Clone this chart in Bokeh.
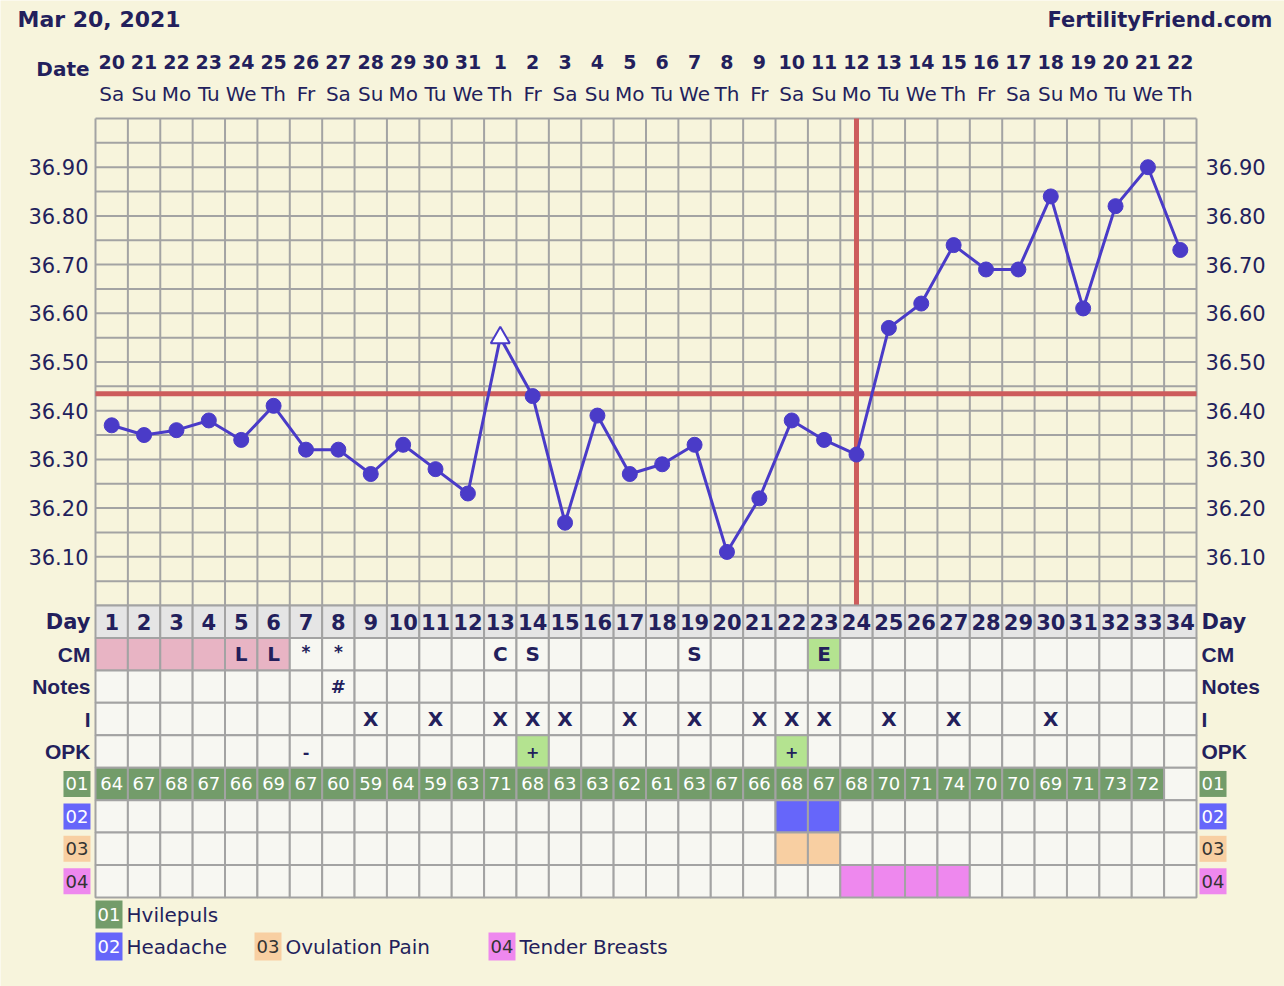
import numpy as np
from bokeh.plotting import figure
from bokeh.models import Range1d
from bokeh.core.properties import value
from bokeh.embed import file_html
from bokeh.resources import INLINE

# ---------------- data ----------------
print_date = "Mar 20, 2021"
site_name = "FertilityFriend.com"
days = list(range(1, 35))
date_nums = [20, 21, 22, 23, 24, 25, 26, 27, 28, 29, 30, 31,
             1, 2, 3, 4, 5, 6, 7, 8, 9, 10, 11, 12, 13, 14, 15, 16, 17, 18, 19, 20, 21, 22]
weekdays = ["Sa", "Su", "Mo", "Tu", "We", "Th", "Fr",
            "Sa", "Su", "Mo", "Tu", "We", "Th", "Fr",
            "Sa", "Su", "Mo", "Tu", "We", "Th", "Fr",
            "Sa", "Su", "Mo", "Tu", "We", "Th", "Fr",
            "Sa", "Su", "Mo", "Tu", "We", "Th"]
temps = [36.37, 36.35, 36.36, 36.38, 36.34, 36.41, 36.32, 36.32, 36.27, 36.33,
         36.28, 36.23, 36.55, 36.43, 36.17, 36.39, 36.27, 36.29, 36.33, 36.11,
         36.22, 36.38, 36.34, 36.31, 36.57, 36.62, 36.74, 36.69, 36.69, 36.84,
         36.61, 36.82, 36.90, 36.73]
open_marker_days = [13]
coverline = 36.435
ovulation_day = 24
temp_ticks = [36.10, 36.20, 36.30, 36.40, 36.50, 36.60, 36.70, 36.80, 36.90]
temp_min, temp_max, temp_step = 36.0, 37.0, 0.05

row_labels = ["Day", "CM", "Notes", "I", "OPK"]
code_labels = ["01", "02", "03", "04"]
menses_days = [1, 2, 3, 4, 5, 6]
cm_marks = {5: "L", 6: "L", 7: "*", 8: "*", 13: "C", 14: "S", 19: "S", 23: "E"}
cm_fertile_days = [23]
notes_marks = {8: "#"}
intercourse_days = [9, 11, 13, 14, 15, 17, 19, 21, 22, 23, 25, 27, 30]
opk_marks = {7: "-", 14: "+", 22: "+"}
opk_positive_days = [14, 22]
resting_pulse = [64, 67, 68, 67, 66, 69, 67, 60, 59, 64, 59, 63, 71, 68, 63, 63, 62,
                 61, 63, 67, 66, 68, 67, 68, 70, 71, 74, 70, 70, 69, 71, 73, 72]
headache_days = [22, 23]
ovulation_pain_days = [22, 23]
tender_breasts_days = [24, 25, 26, 27]
legend_names = ["Hvilepuls", "Headache", "Ovulation Pain", "Tender Breasts"]

# ---------------- style ----------------
BG = "#F7F4DC"
NAVY = "#231F5C"
GRID = "#A3A3A3"
BLUE = "#4A3BC8"
RED = "#CD5C5C"
CELL = "#F7F7F2"
DAYROW = "#E5E5E5"
PINK = "#E8B4C4"
LGREEN = "#B4E390"
code_colors = ["#739C6A", "#6666FA", "#F8CFA2", "#EE88EE"]
code_text_colors = ["white", "white", "#333333", "#333333"]
FONT = value("DejaVu Sans")
NARROW = value("Liberation Sans")

# ---------------- layout (page pixels) ----------------
W, H = 1284, 986
X0 = 95.0                 # left edge of the chart grid (px)
CELL_W = 1101.0 / 34
Y_TOP = 118.0             # top of temperature grid (px)
Y_TABLE = 605.0           # top of the table (px)
CELL_H = 292.0 / 9

def xr(px):
    return 0.5 + (px - X0) / CELL_W

def rr(py):
    return (py - Y_TABLE) / CELL_H

tpp = (temp_max - temp_min) / (Y_TABLE - Y_TOP)

p = figure(width=W, height=H, output_backend="svg", toolbar_location=None,
           x_range=Range1d(xr(0), xr(W)),
           y_range=Range1d(temp_min - (H - Y_TABLE) * tpp, temp_max + Y_TOP * tpp),
           x_axis_location=None, y_axis_location=None,
           min_border=0, min_border_left=0, min_border_right=0,
           min_border_top=0, min_border_bottom=0)
p.extra_y_ranges = {"rows": Range1d(start=rr(H), end=rr(0))}
p.background_fill_color = BG
p.border_fill_color = BG
p.outline_line_color = None
p.grid.visible = False

n = len(days)
first, last = days[0] - 0.5, days[-1] + 0.5

# temperature grid
hlines = np.round(np.arange(temp_min, temp_max + 1e-9, temp_step), 2)
p.segment(x0=[first] * len(hlines), x1=[last] * len(hlines), y0=hlines, y1=hlines,
          line_color=GRID, line_width=2)
vlines = np.arange(first, last + 0.01, 1.0)
p.segment(x0=vlines, x1=vlines, y0=[temp_min] * len(vlines), y1=[temp_max] * len(vlines),
          line_color=GRID, line_width=2)

# coverline & ovulation line
p.segment(x0=[first], x1=[last], y0=[coverline], y1=[coverline], line_color=RED, line_width=5)
p.segment(x0=[ovulation_day], x1=[ovulation_day], y0=[temp_min], y1=[temp_max],
          line_color=RED, line_width=5)

# temperature line and markers
p.line(days, temps, line_color=BLUE, line_width=3)
cx = [d for d in days if d not in open_marker_days]
cy = [temps[d - 1] for d in cx]
p.scatter(cx, cy, marker="circle", size=15, fill_color=BLUE, line_color=BLUE)
tx = open_marker_days
ty = [temps[d - 1] for d in tx]
p.scatter(tx, ty, marker="triangle", size=19, fill_color="white", line_color=BLUE, line_width=2)

# temperature labels
p.text([first] * len(temp_ticks), temp_ticks, text=[f"{t:.2f}" for t in temp_ticks],
       x_offset=-7, text_align="right", text_baseline="middle", text_font=FONT,
       text_font_size="21px", text_color=NAVY)
p.text([last] * len(temp_ticks), temp_ticks, text=[f"{t:.2f}" for t in temp_ticks],
       x_offset=9, text_align="left", text_baseline="middle", text_font=FONT,
       text_font_size="21px", text_color=NAVY)

# header
p.text([xr(17)], [rr(19)], text=[print_date], y_range_name="rows", text_align="left",
       text_baseline="middle", text_font=FONT, text_font_style="bold",
       text_font_size="22px", text_color=NAVY)
p.text([xr(1272)], [rr(19)], text=[site_name], y_range_name="rows", text_align="right",
       text_baseline="middle", text_font=FONT, text_font_style="bold",
       text_font_size="21px", text_color=NAVY)
p.text([first], [rr(68)], text=["Date"], x_offset=-6, y_range_name="rows", text_align="right",
       text_baseline="middle", text_font=FONT, text_font_style="bold",
       text_font_size="20px", text_color=NAVY)
p.text(days, [rr(61)] * n, text=[str(d) for d in date_nums], y_range_name="rows",
       text_align="center", text_baseline="middle", text_font=FONT, text_font_style="bold",
       text_font_size="19px", text_color=NAVY)
p.text(days, [rr(93)] * n, text=weekdays, y_range_name="rows",
       text_align="center", text_baseline="middle", text_font=FONT,
       text_font_size="20px", text_color=NAVY)

# table cells
cell_x, cell_y, cell_c = [], [], []
for r in range(9):
    for d in days:
        c = CELL
        if r == 0:
            c = DAYROW
        elif r == 1 and d in menses_days:
            c = PINK
        elif r == 1 and d in cm_fertile_days:
            c = LGREEN
        elif r == 4 and d in opk_positive_days:
            c = LGREEN
        elif r == 5 and d <= len(resting_pulse):
            c = code_colors[0]
        elif r == 6 and d in headache_days:
            c = code_colors[1]
        elif r == 7 and d in ovulation_pain_days:
            c = code_colors[2]
        elif r == 8 and d in tender_breasts_days:
            c = code_colors[3]
        cell_x.append(d)
        cell_y.append(r + 0.5)
        cell_c.append(c)
p.rect(cell_x, cell_y, width=1, height=1, y_range_name="rows", fill_color=cell_c,
       line_color=GRID, line_width=2)

def row_text(xs, r, texts, size="20px", style="bold", color=NAVY, dy=0.5):
    p.text(xs, [r + dy] * len(xs), text=texts, y_range_name="rows", text_align="center",
           text_baseline="middle", text_font=FONT, text_font_style=style,
           text_font_size=size, text_color=color)

row_text(days, 0, [str(d) for d in days], size="21px")
ck = sorted(cm_marks)
row_text([d for d in ck if cm_marks[d] != "*"], 1,
         [cm_marks[d] for d in ck if cm_marks[d] != "*"], size="20px")
row_text([d for d in ck if cm_marks[d] == "*"], 1,
         [cm_marks[d] for d in ck if cm_marks[d] == "*"], size="17px", dy=0.42)
row_text(sorted(notes_marks), 2, [notes_marks[d] for d in sorted(notes_marks)], size="18px")
row_text(intercourse_days, 3, ["X"] * len(intercourse_days), size="20px")
row_text(sorted(opk_marks), 4, [opk_marks[d] for d in sorted(opk_marks)], size="16px")
row_text(days[:len(resting_pulse)], 5, [str(v) for v in resting_pulse], size="18px",
         style="normal", color="white")

# row labels left/right
for i, lab in enumerate(row_labels):
    f = FONT if lab == "Day" else NARROW
    p.text([first], [i + 0.5], text=[lab], x_offset=-5, y_range_name="rows", text_align="right",
           text_baseline="middle", text_font=f, text_font_style="bold",
           text_font_size="21px", text_color=NAVY)
    p.text([last], [i + 0.5], text=[lab], x_offset=5, y_range_name="rows", text_align="left",
           text_baseline="middle", text_font=f, text_font_style="bold",
           text_font_size="21px", text_color=NAVY)

# code boxes at both sides
bw = 27 / CELL_W
bh = 26 / CELL_H
code_rows = [5.5, 6.5, 7.5, 8.5]
for xc in [first - 0.155 - bw / 2, last + 0.093 + bw / 2]:
    p.rect([xc] * 4, code_rows, width=bw, height=bh, y_range_name="rows",
           fill_color=code_colors, line_color=None)
    for i in range(4):
        p.text([xc], [code_rows[i]], text=[code_labels[i]], y_range_name="rows",
               text_align="center", text_baseline="middle", text_font=FONT,
               text_font_size="18px", text_color=code_text_colors[i])

# legend
leg_px = [(95, 914), (95, 946), (254, 946), (488, 946)]
bh2 = 28 / CELL_H
for i, (lx, ly) in enumerate(leg_px):
    xc = xr(lx) + bw / 2
    yc = rr(ly)
    p.rect([xc], [yc], width=bw, height=bh2, y_range_name="rows",
           fill_color=code_colors[i], line_color=None)
    p.text([xc], [yc], text=[code_labels[i]], y_range_name="rows", text_align="center",
           text_baseline="middle", text_font=FONT, text_font_size="18px",
           text_color=code_text_colors[i])
    p.text([xr(lx + 31)], [yc], text=[legend_names[i]], y_range_name="rows",
           text_align="left", text_baseline="middle", text_font=FONT,
           text_font_size="20px", text_color=NAVY)

open("out.html", "w").write(file_html(p, INLINE))
